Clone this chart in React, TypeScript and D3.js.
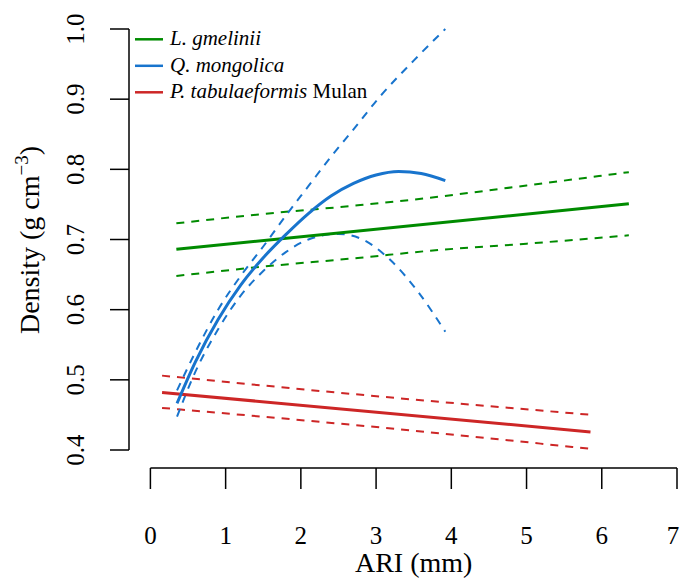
import React from "react";
import * as d3 from "d3";

// ---- data ----
const xTicks = [0, 1, 2, 3, 4, 5, 6, 7];
const yTicks = [0.4, 0.5, 0.6, 0.7, 0.8, 0.9, 1.0];

// L. gmelinii (linear fit + 95% CI)
const lgFitX = [0.345, 6.36];
const lgFitY = [0.686, 0.751];
const lgCiX = [0.345, 1.37, 2.79, 3.72, 5.0, 6.36];
const lgUpper = [0.723, 0.735, 0.749, 0.7596, 0.777, 0.796];
const lgLower = [0.648, 0.66, 0.674, 0.684, 0.694, 0.706];

// Q. mongolica (quadratic fit + 95% CI)
const qmX = [0.354, 0.6, 0.9, 1.2, 1.5, 1.8, 2.1, 2.4, 2.7, 3.0, 3.3, 3.6, 3.92];
const qmFit = [0.4665, 0.526, 0.586, 0.635, 0.674, 0.707, 0.737, 0.762, 0.78, 0.792, 0.797, 0.794, 0.784];
const qmUpperX = [0.354, 0.6, 0.9, 1.2, 1.5, 1.8, 2.1, 2.4, 2.7, 3.05, 3.5, 3.92];
const qmUpper = [0.485, 0.54, 0.6, 0.648, 0.69, 0.734, 0.776, 0.818, 0.857, 0.9035, 0.955, 1.0];
const qmLowerX = [0.354, 0.6, 0.9, 1.2, 1.5, 1.8, 2.1, 2.5, 2.8, 3.187, 3.54, 3.92];
const qmLower = [0.4475, 0.512, 0.572, 0.62, 0.655, 0.682, 0.7, 0.708, 0.701, 0.671, 0.628, 0.5686];

// P. tabulaeformis Mulan (linear fit + 95% CI)
const ptFitX = [0.155, 5.85];
const ptFitY = [0.482, 0.4257];
const ptCiX = [0.155, 2.97, 5.82];
const ptUpper = [0.506, 0.477, 0.4505];
const ptLower = [0.46, 0.433, 0.402];

const colors = { lg: "#008B00", qm: "#1874CD", pt: "#CD2626" };

const legendItems = [
  { key: "lg", italic: "L. gmelinii", plain: "" },
  { key: "qm", italic: "Q. mongolica", plain: "" },
  { key: "pt", italic: "P. tabulaeformis", plain: " Mulan" },
];

const W = 681;
const H = 579;
const FONT = "Liberation Serif";

export default function App() {
  const x = d3.scaleLinear().domain([0, 7]).range([150.4, 677]);
  const y = d3.scaleLinear().domain([0.4, 1.0]).range([450, 29]);

  const line = d3
    .line<[number, number]>()
    .x((d) => x(d[0]))
    .y((d) => y(d[1]))
    .curve(d3.curveMonotoneX);

  const zip = (xs: number[], ys: number[]) => xs.map((v, i) => [v, ys[i]] as [number, number]);

  const paths = [
    { d: line(zip(lgCiX, lgUpper)), c: colors.lg, dash: true },
    { d: line(zip(lgCiX, lgLower)), c: colors.lg, dash: true },
    { d: line(zip(ptCiX, ptUpper)), c: colors.pt, dash: true },
    { d: line(zip(ptCiX, ptLower)), c: colors.pt, dash: true },
    { d: line(zip(qmUpperX, qmUpper)), c: colors.qm, dash: true },
    { d: line(zip(qmLowerX, qmLower)), c: colors.qm, dash: true },
    { d: line(zip(lgFitX, lgFitY)), c: colors.lg, dash: false },
    { d: line(zip(ptFitX, ptFitY)), c: colors.pt, dash: false },
    { d: line(zip(qmX, qmFit)), c: colors.qm, dash: false },
  ];

  const axisY0 = 468;
  const axisX0 = 129;

  const textStyle = { fontFamily: FONT };

  return (
    <svg width={W} height={H} style={{ position: "absolute", left: 0, top: 0, background: "#fff" }}>
      {/* curves */}
      {paths.map((p, i) => (
        <path
          key={i}
          d={p.d || ""}
          fill="none"
          stroke={p.c}
          strokeWidth={p.dash ? 2 : 3}
          strokeDasharray={p.dash ? "8,7" : undefined}
          strokeLinecap="butt"
        />
      ))}

      {/* y axis */}
      <line x1={axisX0} x2={axisX0} y1={y(1.0)} y2={y(0.4)} stroke="#000" strokeWidth={1.5} />
      {yTicks.map((t) => (
        <g key={t}>
          <line x1={axisX0 - 19} x2={axisX0} y1={y(t)} y2={y(t)} stroke="#000" strokeWidth={1.5} />
          <text
            transform={`translate(${84},${y(t)}) rotate(-90)`}
            textAnchor="middle"
            fontSize={25}
            fill="#000"
            style={textStyle}
          >
            {t.toFixed(1)}
          </text>
        </g>
      ))}

      {/* x axis */}
      <line x1={x(0)} x2={x(7)} y1={axisY0} y2={axisY0} stroke="#000" strokeWidth={1.5} />
      {xTicks.map((t) => (
        <g key={t}>
          <line x1={x(t)} x2={x(t)} y1={axisY0} y2={axisY0 + 21} stroke="#000" strokeWidth={1.5} />
          <text x={Math.min(x(t), 673)} y={544} textAnchor="middle" fontSize={25} fill="#000" style={textStyle}>
            {t}
          </text>
        </g>
      ))}

      {/* axis titles */}
      <text x={(x(0) + x(7)) / 2} y={572} textAnchor="middle" fontSize={28} fill="#000" style={textStyle}>
        ARI (mm)
      </text>
      <text
        transform={`translate(39,240) rotate(-90)`}
        textAnchor="middle"
        fontSize={28}
        fill="#000"
        style={textStyle}
      >
        Density (g cm
        <tspan fontSize={19} dy={-11} style={textStyle}>−3</tspan>
        <tspan dy={11} style={textStyle}>)</tspan>
      </text>

      {/* legend */}
      {legendItems.map((it, i) => {
        const ly = 39.3 + i * 26.5;
        return (
          <g key={it.key}>
            <line x1={135} x2={163} y1={ly} y2={ly} stroke={(colors as any)[it.key]} strokeWidth={2.5} />
            <text x={170} y={ly + 6} fontSize={21} fill="#000" style={textStyle}>
              <tspan fontStyle="italic" style={textStyle}>{it.italic}</tspan>
              {it.plain ? <tspan style={textStyle}>{it.plain}</tspan> : null}
            </text>
          </g>
        );
      })}
    </svg>
  );
}
